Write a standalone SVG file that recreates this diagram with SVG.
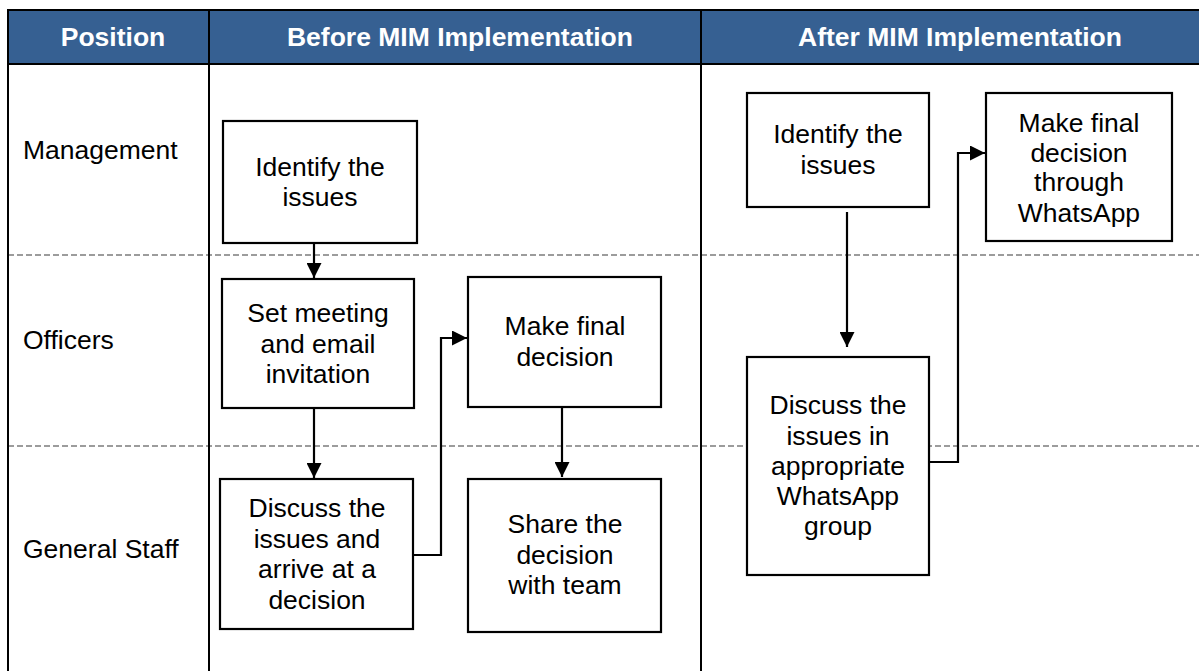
<svg xmlns="http://www.w3.org/2000/svg" width="1199" height="671" viewBox="0 0 1199 671">
  <style>
    .hdr { fill: #366092; }
    .hdrtxt { font-family: "Liberation Sans", Arial, sans-serif; font-size: 26.5px; font-weight: bold; fill: #ffffff; text-anchor: middle; }
    .grid { stroke: #000000; stroke-width: 2; fill: none; }
    .lane { stroke: #3a3a3a; stroke-width: 1.2; stroke-dasharray: 6 3; fill: none; }
    .lbl { font-family: "Liberation Sans", Arial, sans-serif; font-size: 26.5px; fill: #000000; }
    .box rect { fill: #ffffff; stroke: #000000; stroke-width: 2.2; }
    .box text { font-family: "Liberation Sans", Arial, sans-serif; font-size: 26.5px; fill: #000000; text-anchor: middle; }
    .conn path { stroke: #000000; stroke-width: 2.2; fill: none; marker-end: url(#arrow); }
  </style>
  <defs>
    <marker id="arrow" viewBox="0 0 15 15" refX="15" refY="7.5" markerWidth="15" markerHeight="15" markerUnits="userSpaceOnUse" orient="auto">
      <path d="M0,0 L15,7.5 L0,15 Z" fill="#000000"/>
    </marker>
  </defs>

  <rect width="1199" height="671" fill="#ffffff"/>

  <!-- header band -->
  <g id="header">
    <rect class="hdr" x="8" y="10" width="1191" height="54"/>
    <text class="hdrtxt" x="113" y="46">Position</text>
    <text class="hdrtxt" x="460" y="46">Before MIM Implementation</text>
    <text class="hdrtxt" x="960" y="46">After MIM Implementation</text>
  </g>

  <!-- swimlane separators -->
  <g id="lanes">
    <line class="lane" x1="8" y1="255" x2="1199" y2="255"/>
    <line class="lane" x1="8" y1="446" x2="1199" y2="446"/>
  </g>

  <!-- table rules -->
  <g id="grid">
    <line class="grid" x1="8" y1="10" x2="1199" y2="10"/>
    <line class="grid" x1="8" y1="64" x2="1199" y2="64"/>
    <line class="grid" x1="8" y1="9" x2="8" y2="671"/>
    <line class="grid" x1="209" y1="9" x2="209" y2="671"/>
    <line class="grid" x1="701" y1="9" x2="701" y2="671"/>
  </g>

  <!-- row labels -->
  <g id="labels">
    <text class="lbl" x="23" y="159">Management</text>
    <text class="lbl" x="23" y="349">Officers</text>
    <text class="lbl" x="23" y="558">General Staff</text>
  </g>

  <!-- connectors -->
  <g id="connectors" class="conn">
    <path d="M314,243 L314,278"/>
    <path d="M314,408 L314,478"/>
    <path d="M414,555 L441,555 L441,338 L467,338"/>
    <path d="M562,407 L562,477"/>
    <path d="M847,212 L847,347"/>
    <path d="M929,462 L958,462 L958,153 L985,153"/>
  </g>

  <!-- before: process steps -->
  <g id="b-identify" class="box">
    <rect x="223" y="121" width="194" height="122"/>
    <text x="320" y="176">Identify the</text>
    <text x="320" y="206">issues</text>
  </g>
  <g id="b-meeting" class="box">
    <rect x="222" y="279" width="192" height="129"/>
    <text x="318" y="322">Set meeting</text>
    <text x="318" y="353">and email</text>
    <text x="318" y="383">invitation</text>
  </g>
  <g id="b-final" class="box">
    <rect x="468" y="277" width="193" height="130"/>
    <text x="565" y="335">Make final</text>
    <text x="565" y="366">decision</text>
  </g>
  <g id="b-discuss" class="box">
    <rect x="220" y="479" width="193" height="150"/>
    <text x="317" y="517">Discuss the</text>
    <text x="317" y="548">issues and</text>
    <text x="317" y="578">arrive at a</text>
    <text x="317" y="609">decision</text>
  </g>
  <g id="b-share" class="box">
    <rect x="468" y="479" width="193" height="153"/>
    <text x="565" y="533">Share the</text>
    <text x="565" y="564">decision</text>
    <text x="565" y="594">with team</text>
  </g>

  <!-- after: process steps -->
  <g id="a-identify" class="box">
    <rect x="747" y="93" width="182" height="114"/>
    <text x="838" y="143">Identify the</text>
    <text x="838" y="174">issues</text>
  </g>
  <g id="a-final" class="box">
    <rect x="986" y="93" width="186" height="148"/>
    <text x="1079" y="132">Make final</text>
    <text x="1079" y="162">decision</text>
    <text x="1079" y="191">through</text>
    <text x="1079" y="222">WhatsApp</text>
  </g>
  <g id="a-discuss" class="box">
    <rect x="747" y="357" width="182" height="218"/>
    <text x="838" y="414">Discuss the</text>
    <text x="838" y="445">issues in</text>
    <text x="838" y="475">appropriate</text>
    <text x="838" y="505">WhatsApp</text>
    <text x="838" y="535">group</text>
  </g>
</svg>
